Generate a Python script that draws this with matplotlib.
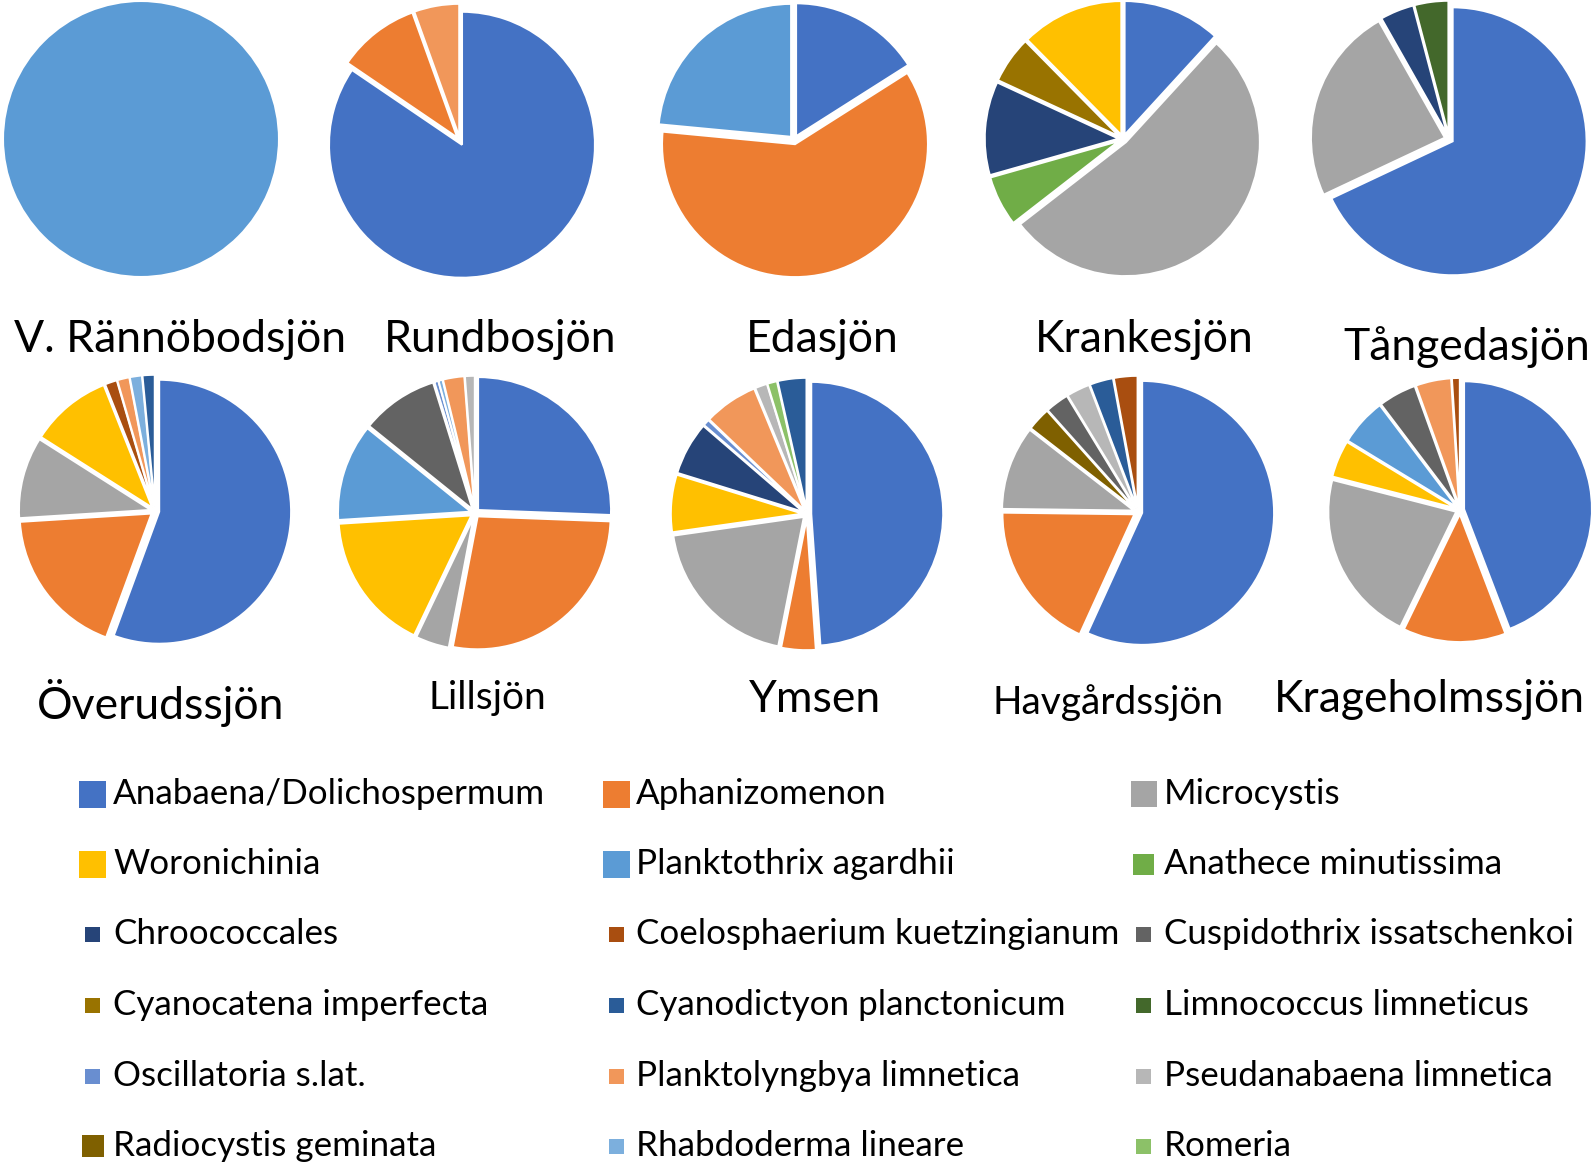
import matplotlib
matplotlib.use("Agg")
import matplotlib.pyplot as plt
from matplotlib.patches import Rectangle

# ---------------- data ----------------
species = ["Anabaena/Dolichospermum", "Aphanizomenon", "Microcystis",
           "Woronichinia", "Planktothrix agardhii", "Anathece minutissima",
           "Chroococcales", "Coelosphaerium kuetzingianum", "Cuspidothrix issatschenkoi",
           "Cyanocatena imperfecta", "Cyanodictyon planctonicum", "Limnococcus limneticus",
           "Oscillatoria s.lat.", "Planktolyngbya limnetica", "Pseudanabaena limnetica",
           "Radiocystis geminata", "Rhabdoderma lineare", "Romeria"]
species_colors = ["#4472C4", "#ED7D31", "#A5A5A5",
                  "#FFC000", "#5B9BD5", "#70AD47",
                  "#264478", "#A94E10", "#636363",
                  "#997300", "#2A5C98", "#43682B",
                  "#698ED0", "#F1975A", "#B7B7B7",
                  "#7F6000", "#7CAFDD", "#8CC168"]

lakes = ["V. Rännöbodsjön", "Rundbosjön", "Edasjön", "Krankesjön", "Tångedasjön",
         "Överudssjön", "Lillsjön", "Ymsen", "Havgårdssjön", "Krageholmssjön"]

rannobodsjon_taxa = ["Planktothrix agardhii"]
rannobodsjon_vals = [100]

rundbosjon_taxa = ["Anabaena/Dolichospermum", "Aphanizomenon", "Planktolyngbya limnetica"]
rundbosjon_vals = [84.5, 10.0, 5.5]

edasjon_taxa = ["Anabaena/Dolichospermum", "Aphanizomenon", "Planktothrix agardhii"]
edasjon_vals = [16.0, 60.5, 23.5]

krankesjon_taxa = ["Anabaena/Dolichospermum", "Microcystis", "Anathece minutissima",
                   "Chroococcales", "Cyanocatena imperfecta", "Woronichinia"]
krankesjon_vals = [11.8, 52.7, 6.1, 11.3, 5.7, 12.4]

tangedasjon_taxa = ["Anabaena/Dolichospermum", "Microcystis", "Chroococcales",
                    "Limnococcus limneticus"]
tangedasjon_vals = [68.0, 23.8, 4.1, 4.1]

overudssjon_taxa = ["Anabaena/Dolichospermum", "Aphanizomenon", "Microcystis", "Woronichinia",
                    "Coelosphaerium kuetzingianum", "Planktolyngbya limnetica",
                    "Rhabdoderma lineare", "Cyanodictyon planctonicum"]
overudssjon_vals = [55.6, 18.4, 10.0, 10.0, 1.5, 1.5, 1.5, 1.5]

lillsjon_taxa = ["Anabaena/Dolichospermum", "Aphanizomenon", "Microcystis", "Woronichinia",
                 "Planktothrix agardhii", "Cuspidothrix issatschenkoi", "Oscillatoria s.lat.",
                 "Rhabdoderma lineare", "Planktolyngbya limnetica", "Pseudanabaena limnetica"]
lillsjon_vals = [25.6, 27.4, 4.1, 16.9, 11.8, 9.4, 0.5, 0.5, 2.6, 1.2]

ymsen_taxa = ["Anabaena/Dolichospermum", "Aphanizomenon", "Microcystis", "Woronichinia",
              "Chroococcales", "Oscillatoria s.lat.", "Planktolyngbya limnetica",
              "Pseudanabaena limnetica", "Romeria", "Cyanodictyon planctonicum"]
ymsen_vals = [48.6, 4.2, 19.5, 7.0, 6.5, 0.8, 6.6, 1.5, 1.2, 3.5]

havgardssjon_taxa = ["Anabaena/Dolichospermum", "Aphanizomenon", "Microcystis",
                     "Radiocystis geminata", "Cuspidothrix issatschenkoi",
                     "Pseudanabaena limnetica", "Cyanodictyon planctonicum",
                     "Coelosphaerium kuetzingianum"]
havgardssjon_vals = [56.8, 18.4, 10.3, 2.9, 2.9, 2.9, 2.9, 2.9]

krageholmssjon_taxa = ["Anabaena/Dolichospermum", "Aphanizomenon", "Microcystis", "Woronichinia",
                       "Planktothrix agardhii", "Cuspidothrix issatschenkoi",
                       "Planktolyngbya limnetica", "Coelosphaerium kuetzingianum"]
krageholmssjon_vals = [44.2, 13.0, 21.8, 4.7, 6.0, 4.8, 4.5, 1.0]

lake_taxa = [rannobodsjon_taxa, rundbosjon_taxa, edasjon_taxa, krankesjon_taxa, tangedasjon_taxa,
             overudssjon_taxa, lillsjon_taxa, ymsen_taxa, havgardssjon_taxa, krageholmssjon_taxa]
lake_vals = [rannobodsjon_vals, rundbosjon_vals, edasjon_vals, krankesjon_vals, tangedasjon_vals,
             overudssjon_vals, lillsjon_vals, ymsen_vals, havgardssjon_vals, krageholmssjon_vals]

# ---------------- layout (pixels) ----------------
W, H = 1594, 1166
pie_boxes = [(141, 139, 138), (460, 141, 133), (794, 140, 133), (1123, 139, 134), (1449, 139, 134),
             (155, 511, 132), (475, 513, 133), (807, 514, 132), (1138, 512, 132), (1460, 510, 128)]
title_pos = [(180, 339, 32), (500, 339, 32), (822, 339, 32), (1144, 339, 32), (1467, 347, 32),
             (161, 703, 32), (487, 698, 28), (815, 699, 32), (1108, 703, 28), (1429, 699, 32)]

legend_rows_y = [794, 864, 934, 1005, 1076, 1146]
legend_swatch_x = [93, 617, 1144]
legend_text_x = [113, 636, 1164]
legend_swatch_size = [27, 27, 26,
                      27, 27, 21,
                      15, 15, 15,
                      15, 15, 15,
                      15, 15, 15,
                      22, 15, 15]

plt.rcParams["font.family"] = ["Lato", "DejaVu Sans"]
fig = plt.figure(figsize=(W / 100, H / 100), dpi=100)
fig.patch.set_facecolor("white")

color_of = dict(zip(species, species_colors))

# legend
lax = fig.add_axes([0, 0, 1, 1])
lax.set_xlim(0, W)
lax.set_ylim(H, 0)
lax.axis("off")
for i, (name, col) in enumerate(zip(species, species_colors)):
    r, c = divmod(i, 3)
    y = legend_rows_y[r]
    s = legend_swatch_size[i]
    lax.add_patch(Rectangle((legend_swatch_x[c] - s / 2, y - s / 2), s, s,
                            facecolor=col, edgecolor="none"))
    lax.text(legend_text_x[c], y, name, ha="left", va="center", fontsize=25.2, color="black")

# pies
expl = 0.032
for (cx, cy, rr), taxa, vals in zip(pie_boxes, lake_taxa, lake_vals):
    half = 1.15 * rr
    ax = fig.add_axes([(cx - half) / W, 1 - (cy + half) / H, 2 * half / W, 2 * half / H])
    multi = len(vals) > 1
    ax.pie(vals, colors=[color_of[t] for t in taxa], startangle=90, counterclock=False,
           explode=[expl] * len(vals) if multi else None,
           radius=1.0,
           wedgeprops=dict(edgecolor="white", linewidth=1.5))
    ax.set_xlim(-1.15, 1.15)
    ax.set_ylim(-1.15, 1.15)
    ax.axis("off")

for name, (x, y, fs) in zip(lakes, title_pos):
    fig.text(x / W, 1 - y / H, name, ha="center", va="center", fontsize=fs, color="black")

fig.savefig("out.png", dpi=100, facecolor="white")
